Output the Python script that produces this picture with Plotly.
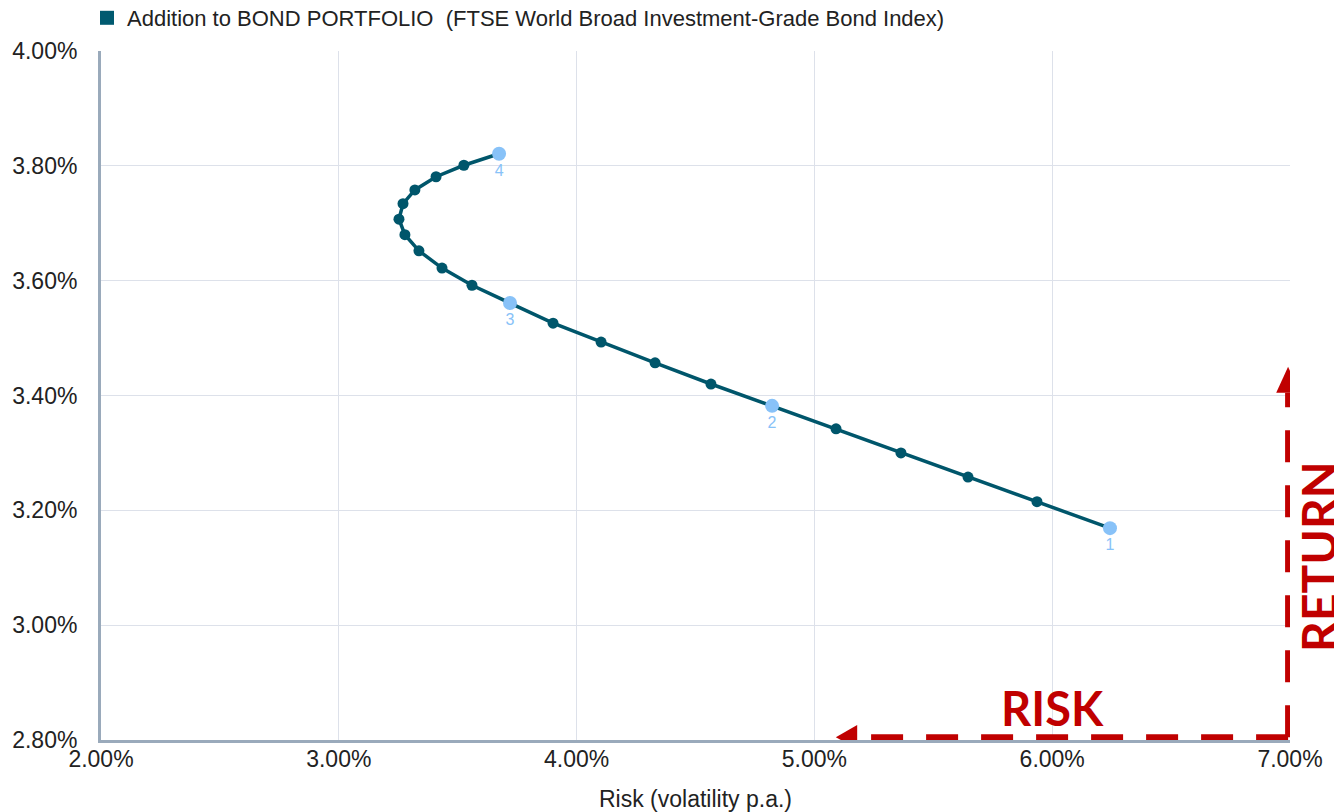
import plotly.graph_objects as go

# ---- data (percent) ----
risk = [6.243, 5.936, 5.646, 5.364, 5.091, 4.822, 4.565, 4.330, 4.103, 3.901,
        3.720, 3.560, 3.434, 3.337, 3.278, 3.253, 3.270, 3.320, 3.409, 3.526, 3.674]
ret = [3.169, 3.215, 3.258, 3.300, 3.342, 3.382, 3.420, 3.457, 3.493, 3.526,
       3.561, 3.592, 3.622, 3.652, 3.680, 3.707, 3.734, 3.758, 3.781, 3.801, 3.821]
key_idx = [0, 5, 10, 20]
key_labels = ["1", "2", "3", "4"]
series_name = "Addition to BOND PORTFOLIO  (FTSE World Broad Investment-Grade Bond Index)"
x_title = "Risk (volatility p.a.)"
x_range = [2, 7]
y_range = [2.8, 4.0]

DARK = "#00566b"
LIGHT = "#88c2f8"
RED = "#c00000"
AXIS = "#9aaabb"
GRID = "#dde1ea"
FONT = "Arial, Liberation Sans, sans-serif"

W, H = 1334, 804  # page body adds an 8px offset

fig = go.Figure()
fig.add_trace(go.Scatter(
    x=risk, y=ret, mode="lines+markers",
    line=dict(color=DARK, width=3.5),
    marker=dict(color=DARK, size=11),
    showlegend=False, hoverinfo="skip"))
fig.add_trace(go.Scatter(
    x=[risk[i] for i in key_idx], y=[ret[i] for i in key_idx],
    mode="markers+text", text=key_labels, textposition="bottom center",
    textfont=dict(color=LIGHT, size=16, family=FONT),
    marker=dict(color=LIGHT, size=14),
    showlegend=False))
fig.add_trace(go.Scatter(
    x=[None], y=[None], mode="markers", name=series_name,
    marker=dict(color="#005a70", size=14, symbol="square"),
    showlegend=True))

# decorative RISK / RETURN arrows
hx_tip, hx_base, hy = 5.09, 5.18, 2.805
vx, vy_tip, vy_base = 6.992, 3.45, 3.405
aw_y, aw_x = 0.021, 0.05
shapes = [
    dict(type="line", xref="x", yref="y", x0=vx, y0=hy, x1=hx_base, y1=hy,
         line=dict(color=RED, width=6, dash="32px,23px")),
    dict(type="line", xref="x", yref="y", x0=vx, y0=hy, x1=vx, y1=vy_base,
         line=dict(color=RED, width=6, dash="32px,23px")),
    dict(type="path", xref="x", yref="y",
         path=f"M {hx_tip} {hy} L {hx_base} {hy + aw_y} L {hx_base} {hy - aw_y} Z",
         fillcolor=RED, line=dict(color=RED, width=0)),
    dict(type="path", xref="x", yref="y",
         path=f"M {vx} {vy_tip} L {vx - aw_x} {vy_base} L {vx + aw_x} {vy_base} Z",
         fillcolor=RED, line=dict(color=RED, width=0)),
]
annotations = [
    dict(text="<b>RISK</b>", xref="x", yref="y", x=6.0, y=2.855, showarrow=False,
         font=dict(family="Lato", size=47, color=RED)),
    dict(text="<b>RETURN</b>", xref="paper", yref="y", x=1.0245, y=3.119, showarrow=False,
         xanchor="center", yanchor="middle",
         textangle=-90, font=dict(family="Lato", size=48, color=RED)),
]

fig.update_layout(
    width=W, height=H,
    margin=dict(l=93, r=52, t=43, b=72, autoexpand=False),
    paper_bgcolor="white", plot_bgcolor="white",
    font=dict(family=FONT, size=23, color="#222222"),
    shapes=shapes, annotations=annotations,
    showlegend=True,
    legend=dict(xref="container", yref="container", x=79 / W, y=1 - 10 / H,
                xanchor="left", yanchor="middle",
                orientation="h", font=dict(size=22, family=FONT, color="#222222"),
                bgcolor="rgba(0,0,0,0)"),
)
fig.update_xaxes(
    range=x_range, dtick=1, tick0=2, tickformat=".2f", ticksuffix="%",
    showgrid=True, gridcolor=GRID, gridwidth=1, zeroline=False,
    showline=True, linecolor=AXIS, linewidth=3, automargin=False,
    tickfont=dict(size=23), ticklabelstandoff=-4,
    title=dict(text=x_title, font=dict(size=23), standoff=27))
fig.update_yaxes(
    range=y_range, dtick=0.2, tick0=2.8, tickformat=".2f", ticksuffix="%",
    showgrid=True, gridcolor=GRID, gridwidth=1, zeroline=False,
    showline=True, linecolor=AXIS, linewidth=3, automargin=False,
    tickfont=dict(size=23), ticklabelstandoff=16)

fig.write_html("out.html")
